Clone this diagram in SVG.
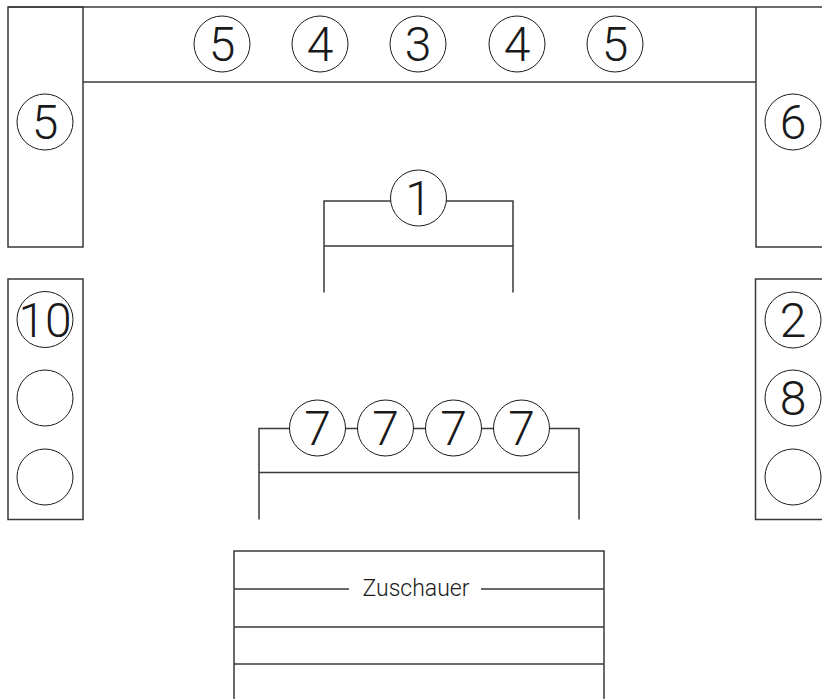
<svg xmlns="http://www.w3.org/2000/svg" width="822" height="699" viewBox="0 0 822 699">
<style>
.wall{fill:none;stroke:#3a3a3a;stroke-width:1.5}
.c{fill:#fff;stroke:#1a1a1a;stroke-width:1}
.n{font-family:Roboto,"Liberation Sans",sans-serif;font-weight:300;font-size:48px;fill:#1a1a1a;text-anchor:middle}
.t{font-family:Roboto,"Liberation Sans",sans-serif;font-weight:300;font-size:23px;fill:#1a1a1a;text-anchor:middle}
</style>
<rect width="822" height="699" fill="#fff"/>
<g id="connectors" class="wall">
<path d="M83,82 H756"/>
<path d="M324,292.5 V201 H513 V292.5 M324,246 H513"/>
<path d="M259,519.5 V428.5 H579 V519.5 M259,472.5 H579"/>
<path d="M234,699 V551 H604 V699 M234,627 H604 M234,664 H604 M234,589 H349 M481,589 H604"/>
</g>
<g id="walls" class="wall">
<path d="M8,7 H822"/>
<rect x="8" y="7" width="75" height="240"/>
<path d="M822,247 H756 V7"/>
<rect x="8" y="279" width="75" height="240.5"/>
<path d="M822,519.5 H755.5 V279 H822"/>
</g>
<g id="n5a"><circle class="c" cx="222" cy="44" r="28"/><text class="n" x="222" y="61">5</text></g>
<g id="n4a"><circle class="c" cx="320" cy="44" r="28"/><text class="n" x="320" y="61">4</text></g>
<g id="n3"><circle class="c" cx="418" cy="44" r="28"/><text class="n" x="418" y="61">3</text></g>
<g id="n4b"><circle class="c" cx="517" cy="44" r="28"/><text class="n" x="517" y="61">4</text></g>
<g id="n5b"><circle class="c" cx="615" cy="44" r="28"/><text class="n" x="615" y="61">5</text></g>
<g id="n5c"><circle class="c" cx="45" cy="122" r="28"/><text class="n" x="45" y="139">5</text></g>
<g id="n6"><circle class="c" cx="793" cy="122" r="28"/><text class="n" x="793" y="139">6</text></g>
<g id="n1"><circle class="c" cx="418.5" cy="198" r="28"/><text class="n" x="418.5" y="215">1</text></g>
<g id="n10"><circle class="c" cx="45" cy="319.5" r="28"/><text class="n" x="45" y="336.5">10</text></g>
<g id="e1"><circle class="c" cx="45" cy="398" r="28"/></g>
<g id="e2"><circle class="c" cx="45" cy="477" r="28"/></g>
<g id="n2"><circle class="c" cx="793" cy="320" r="28"/><text class="n" x="793" y="337">2</text></g>
<g id="n8"><circle class="c" cx="793" cy="398" r="28"/><text class="n" x="793" y="415">8</text></g>
<g id="e3"><circle class="c" cx="793" cy="477" r="28"/></g>
<g id="n7a"><circle class="c" cx="317.5" cy="428" r="28"/><text class="n" x="317.5" y="445">7</text></g>
<g id="n7b"><circle class="c" cx="385.5" cy="428" r="28"/><text class="n" x="385.5" y="445">7</text></g>
<g id="n7c"><circle class="c" cx="453.5" cy="428" r="28"/><text class="n" x="453.5" y="445">7</text></g>
<g id="n7d"><circle class="c" cx="521.5" cy="428" r="28"/><text class="n" x="521.5" y="445">7</text></g>
<g id="zuschauer"><text class="t" x="416" y="596">Zuschauer</text></g>
</svg>
